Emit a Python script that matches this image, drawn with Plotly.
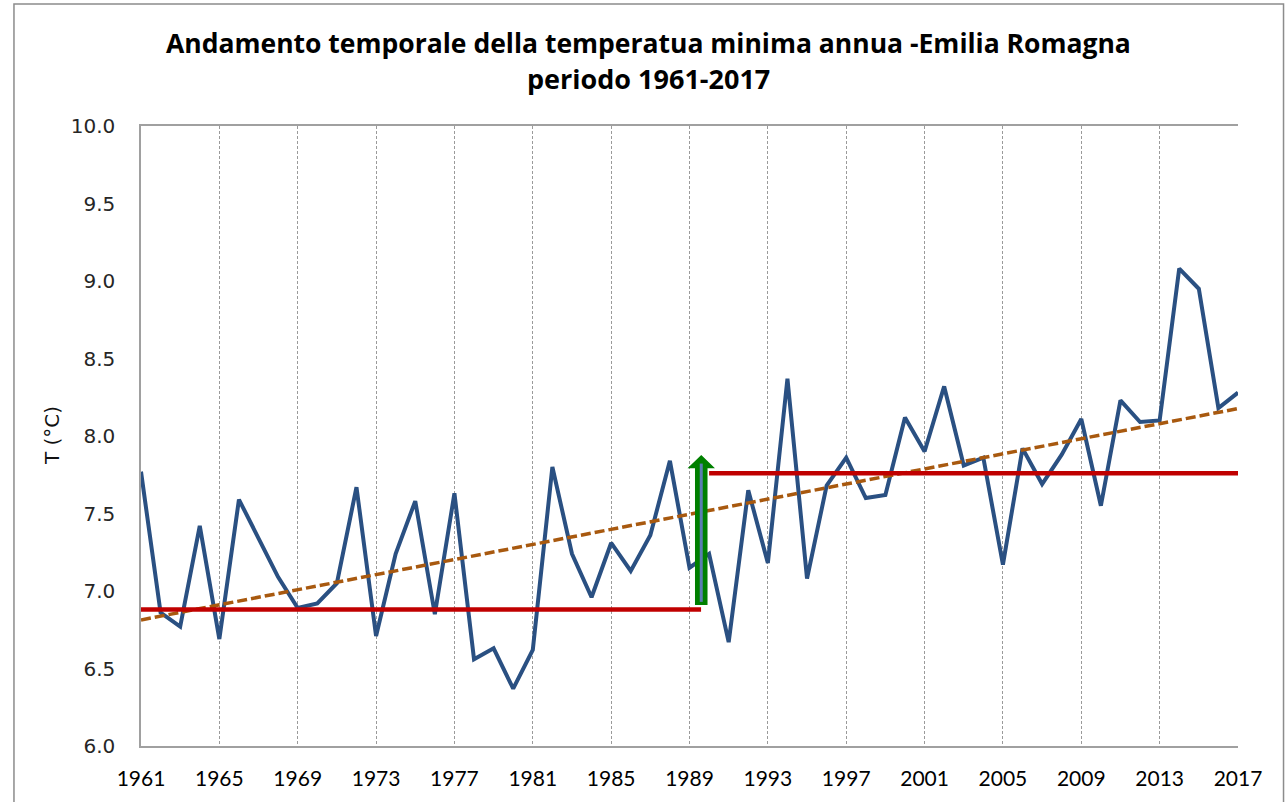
import numpy as np
import plotly.graph_objects as go

# ---- data ----
years = list(range(1961, 2018))
tmin = [7.77, 6.86, 6.77, 7.42, 6.69, 7.59, 7.34, 7.09, 6.89, 6.92,
        7.05, 7.67, 6.71, 7.24, 7.58, 6.85, 7.63, 6.56, 6.63, 6.37,
        6.62, 7.80, 7.24, 6.96, 7.31, 7.13, 7.36, 7.84, 7.15, 7.24,
        6.67, 7.65, 7.18, 8.37, 7.08, 7.68, 7.86, 7.60, 7.62, 8.12,
        7.90, 8.32, 7.81, 7.86, 7.17, 7.92, 7.69, 7.88, 8.11, 7.55,
        8.23, 8.09, 8.10, 9.08, 8.95, 8.18, 8.28]
period_start = [1960.64, 1990.0]
period_end = [1989.59, 2017.0]
period_level = [6.88, 7.76]
arrow_year = 1989.6
arrow_from = 6.91
arrow_to = 7.877
x_ticks = list(range(1961, 2018, 4))
y_ticks = [6.0, 6.5, 7.0, 7.5, 8.0, 8.5, 9.0, 9.5, 10.0]

title_line1 = "Andamento temporale della temperatua minima annua -Emilia Romagna"
title_line2 = "periodo 1961-2017"
y_title = "T (°C)"

# linear trend (Excel-style trendline)
coef = np.polyfit(years, tmin, 1)
trend_x = [years[0], years[-1]]
trend_y = [float(np.polyval(coef, v)) for v in trend_x]

fig = go.Figure()
fig.add_trace(go.Scatter(x=years, y=tmin, mode="lines",
                         line=dict(color="#2A5082", width=4),
                         showlegend=False, hoverinfo="x+y"))
fig.add_trace(go.Scatter(x=trend_x, y=trend_y, mode="lines",
                         line=dict(color="#A8590F", width=3.5, dash="10px,4px"),
                         showlegend=False))
for s, e, lv in zip(period_start, period_end, period_level):
    fig.add_trace(go.Scatter(x=[s, e], y=[lv, lv], mode="lines",
                             line=dict(color="#C00000", width=4.5),
                             showlegend=False))

# green block arrow
shaft_hw = 0.32
head_hw = 0.70
head_h = 0.085
y_base = arrow_to - head_h
path = (f"M {arrow_year - shaft_hw},{arrow_from} "
        f"L {arrow_year - shaft_hw},{y_base} "
        f"L {arrow_year - head_hw},{y_base} "
        f"L {arrow_year},{arrow_to} "
        f"L {arrow_year + head_hw},{y_base} "
        f"L {arrow_year + shaft_hw},{y_base} "
        f"L {arrow_year + shaft_hw},{arrow_from} Z")
fig.add_shape(type="path", path=path, xref="x", yref="y",
              fillcolor="#008000", line=dict(width=0), layer="above")
fig.add_shape(type="line", xref="x", yref="y",
              x0=arrow_year, x1=arrow_year,
              y0=arrow_from + 0.02, y1=y_base + 0.03,
              line=dict(color="#5B7DB0", width=3), layer="above")

# outer chart border
fig.add_shape(type="rect", xref="paper", yref="paper",
              x0=-0.1158, x1=1.0415, y0=-0.1, y1=1.1968,
              line=dict(color="#8C8C8C", width=1.5), layer="below")

fig.add_annotation(text=f"<b>{title_line1}</b>", xref="paper", yref="paper",
                   x=0.463, y=1.1339, xanchor="center", yanchor="middle",
                   showarrow=False, font=dict(family="Open Sans", size=26.5, color="#000000"))
fig.add_annotation(text=f"<b>{title_line2}</b>", xref="paper", yref="paper",
                   x=0.463, y=1.0774, xanchor="center", yanchor="middle",
                   showarrow=False, font=dict(family="Open Sans", size=27, color="#000000"))
fig.add_annotation(text=y_title, xref="paper", yref="paper",
                   x=-0.0811, y=0.5, xanchor="center", yanchor="middle",
                   textangle=-90, showarrow=False,
                   font=dict(family="DejaVu Sans", size=20, color="#111111"))

fig.update_layout(
    width=1286, height=802,
    margin=dict(l=141, r=48, t=126, b=56, autoexpand=False),
    paper_bgcolor="white", plot_bgcolor="white",
    showlegend=False,
    xaxis=dict(range=[1961, 2017], tickmode="array", tickvals=x_ticks,
               ticktext=[str(v) for v in x_ticks], automargin=False,
               showgrid=True, gridcolor="#9A9A9A", gridwidth=1, griddash="3px,2px",
               showline=True, linecolor="#A0A0A0", linewidth=1.5, mirror=True,
               ticks="", ticklabelstandoff=13, zeroline=False,
               tickfont=dict(family="Lato", size=21, color="#000000")),
    yaxis=dict(range=[6.0, 10.0], tickmode="array", tickvals=y_ticks,
               ticktext=[f"{v:.1f}" for v in y_ticks], automargin=False,
               showgrid=False, showline=True, linecolor="#A0A0A0", linewidth=1.5,
               ticks="", ticklabelstandoff=20, zeroline=False,
               tickfont=dict(family="DejaVu Sans", size=20, color="#262626")),
)

fig.write_html("out.html", config={"displayModeBar": False},
               post_script="document.body.style.margin='0';document.body.style.overflow='hidden';")
